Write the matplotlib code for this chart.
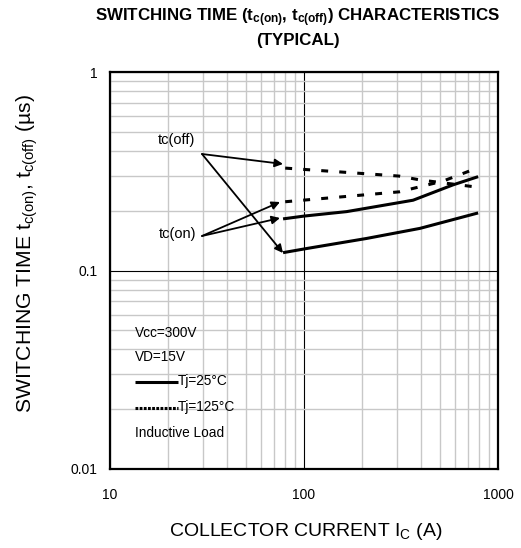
import matplotlib
matplotlib.use('Agg')
import matplotlib.pyplot as plt
import numpy as np

plt.rcParams['font.family'] = ['Liberation Sans', 'DejaVu Sans']
plt.rcParams['mathtext.fontset'] = 'custom'
plt.rcParams['mathtext.rm'] = 'Liberation Sans'
plt.rcParams['mathtext.bf'] = 'Liberation Sans:bold'
plt.rcParams['mathtext.default'] = 'regular'
plt.rcParams['lines.scale_dashes'] = False

# data
ic_on25 = [78, 100, 166, 365, 586, 790]
ton_25 = [0.182, 0.188, 0.198, 0.226, 0.27, 0.297]
ic_off25 = [78, 103, 210, 396, 790]
toff_25 = [0.123, 0.129, 0.145, 0.163, 0.195]
ic_on125 = [80, 309, 520, 780]
ton_125 = [0.222, 0.249, 0.282, 0.328]
ic_off125 = [80, 309, 396, 780]
toff_125 = [0.328, 0.299, 0.286, 0.263]

xticks = [10, 100, 1000]
xticklabels = ['10', '100', '1000']
yticks = [0.01, 0.1, 1]
yticklabels = ['0.01', '0.1', '1']

fig = plt.figure(figsize=(5.21, 5.48), dpi=100)
# plot box in pixels: x 110..498, y 72..469
ax = fig.add_axes([110/521, 1-469/548, 388/521, 397/548])

ax.set_xscale('log')
ax.set_yscale('log')
ax.set_xlim(10, 1000)
ax.set_ylim(0.01, 1)

ax.grid(True, which='minor', color='#c8c8c8', lw=1.0)
ax.grid(True, which='major', color='black', lw=0.8)
ax.set_axisbelow(True)
ax.tick_params(which='both', length=0)
ax.set_xticks(xticks)
ax.set_xticklabels(xticklabels, fontsize=10)
ax.set_yticks(yticks)
ax.set_yticklabels(yticklabels, fontsize=10)
ax.tick_params(axis='x', pad=14)
ax.tick_params(axis='y', pad=9)
for s in ax.spines.values():
    s.set_linewidth(1.6)
    s.set_zorder(5)

lw = 2.2
ax.plot(ic_on25, ton_25, color='black', lw=lw, solid_capstyle='butt')
ax.plot(ic_off25, toff_25, color='black', lw=lw, solid_capstyle='butt')
ax.plot(ic_on125, ton_125, color='black', lw=lw, dashes=(5, 8))
ax.plot(ic_off125, toff_125, color='black', lw=lw, dashes=(5, 8))

def px2data(px, py):
    return 10 ** (1 + (px - 110) / 194), 10 ** (-(py - 72) / 198.5)

arrow = dict(arrowstyle='-|>', color='black', lw=1.3, shrinkA=0, shrinkB=0,
             mutation_scale=12)
ax.text(*px2data(176, 140), 'tc(off)', fontsize=10.5, ha='center', va='center')
for head in [(283, 164), (283, 253)]:
    ax.annotate('', xy=px2data(*head), xytext=px2data(202, 154), arrowprops=arrow)
ax.text(*px2data(178, 234), 'tc(on)', fontsize=10.5, ha='center', va='center')
for head in [(280, 202), (280, 218)]:
    ax.annotate('', xy=px2data(*head), xytext=px2data(202, 236), arrowprops=arrow)

# condition block
def fx(px):
    return (px - 110) / 388

def fy(py):
    return (469 - py) / 397

tf = ax.transAxes
fs = 9.8
ax.text(fx(135), fy(333), 'Vcc=300V', fontsize=fs, va='center', transform=tf)
ax.text(fx(135), fy(357), 'VD=15V', fontsize=fs, va='center', transform=tf)
ax.plot([fx(135), fx(178)], [fy(382), fy(382)], color='black', lw=2.2,
        transform=tf, solid_capstyle='butt')
ax.text(fx(178), fy(381), 'Tj=25°C', fontsize=fs, va='center', transform=tf)
ax.plot([fx(135), fx(178)], [fy(408), fy(408)], color='black', lw=2.2,
        dashes=(2, 1), transform=tf)
ax.text(fx(178), fy(407), 'Tj=125°C', fontsize=fs, va='center', transform=tf)
ax.text(fx(135), fy(433), 'Inductive Load', fontsize=fs, va='center', transform=tf)

fig.text(298/521, 1-18/548,
         r'SWITCHING TIME (t$_{\mathbf{c(on)}}$, t$_{\mathbf{c(off)}}$) CHARACTERISTICS',
         fontsize=12.2, fontweight='bold', ha='center', va='center')
fig.text(298/521, 1-41/548, '(TYPICAL)', fontsize=12.2, fontweight='bold',
         ha='center', va='center')
fig.text(306/521, 1-531/548, r'COLLECTOR CURRENT I$_{C}$ (A)', fontsize=14,
         ha='center', va='center')
fig.text(27/521, 1-254/548,
         r'SWITCHING TIME t$_{c(on)}$, t$_{c(off)}$ (µs)', fontsize=15.2,
         rotation=90, ha='center', va='center')

fig.savefig('out.png', dpi=100)
